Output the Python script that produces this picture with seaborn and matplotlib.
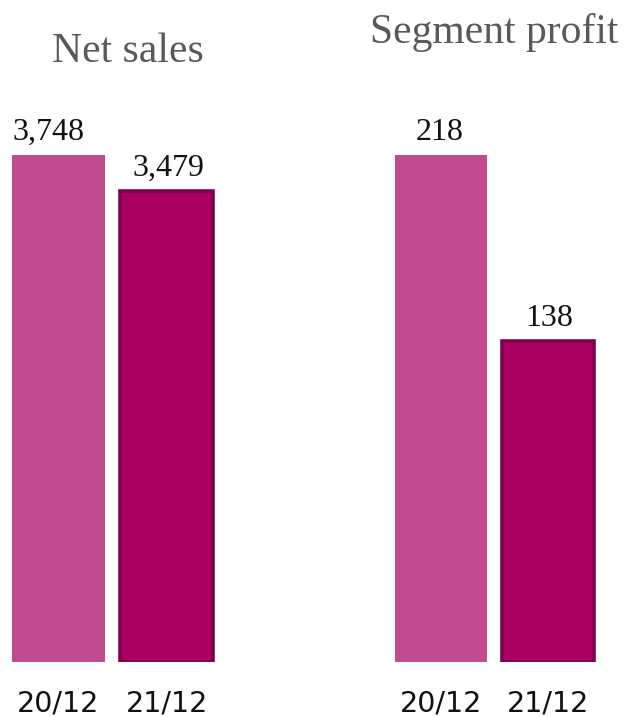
import matplotlib
matplotlib.use("Agg")
import matplotlib.pyplot as plt
import seaborn as sns
import pandas as pd

periods = ["20/12", "21/12"]
net_sales = [3748, 3479]
segment_profit = [218, 138]
value_labels_sales = ["3,748", "3,479"]
value_labels_profit = ["218", "138"]
titles = ["Net sales", "Segment profit"]

colors = ["#c04b8f", "#ab0062"]
edge_dark = "#7c0150"

sns.set_theme(style="white")
plt.rcParams["font.family"] = ["DejaVu Sans"]

W, H = 626, 717
fig = plt.figure(figsize=(W / 100, H / 100), dpi=100)

base_y = 662
top_y = 155

def panel(left_px, width_px, values, labels, title, title_x, title_y, label_dx):
    ax = fig.add_axes([left_px / W, 1 - base_y / H, width_px / W, (base_y - top_y) / H])
    df = pd.DataFrame({"period": periods, "value": values})
    sns.barplot(data=df, x="period", y="value", hue="period", palette=colors,
                width=0.857, legend=False, ax=ax, saturation=1)
    ax.set_xlim(-0.5, 1.5)
    ax.set_ylim(0, max(values))
    bars = ax.patches
    bars[0].set_edgecolor("none")
    bars[1].set_edgecolor(edge_dark)
    bars[1].set_linewidth(2.6)
    for b, lab, dx in zip(bars, labels, label_dx):
        ax.annotate(lab, (b.get_x() + b.get_width() / 2, b.get_height()),
                    xytext=(dx, 11), textcoords="offset points", ha="center", va="baseline",
                    fontsize=23, family="Liberation Serif", color="#111111",
                    annotation_clip=False)
    ax.set_xlabel("")
    ax.set_ylabel("")
    ax.set_yticks([])
    ax.tick_params(axis="x", length=0, pad=20, labelsize=20.5, labelcolor="#111111")
    for s in ax.spines.values():
        s.set_visible(False)
    fig.text(title_x / W, 1 - title_y / H, title, ha="center", va="center",
             fontsize=30, family="Liberation Serif", color="#595959")
    return ax

panel(4, 217, net_sales, value_labels_sales, titles[0], 128, 52, [-7, 1])
panel(387, 215, segment_profit, value_labels_profit, titles[1], 494, 32, [-1, 1])

fig.savefig("out.png", dpi=100)
